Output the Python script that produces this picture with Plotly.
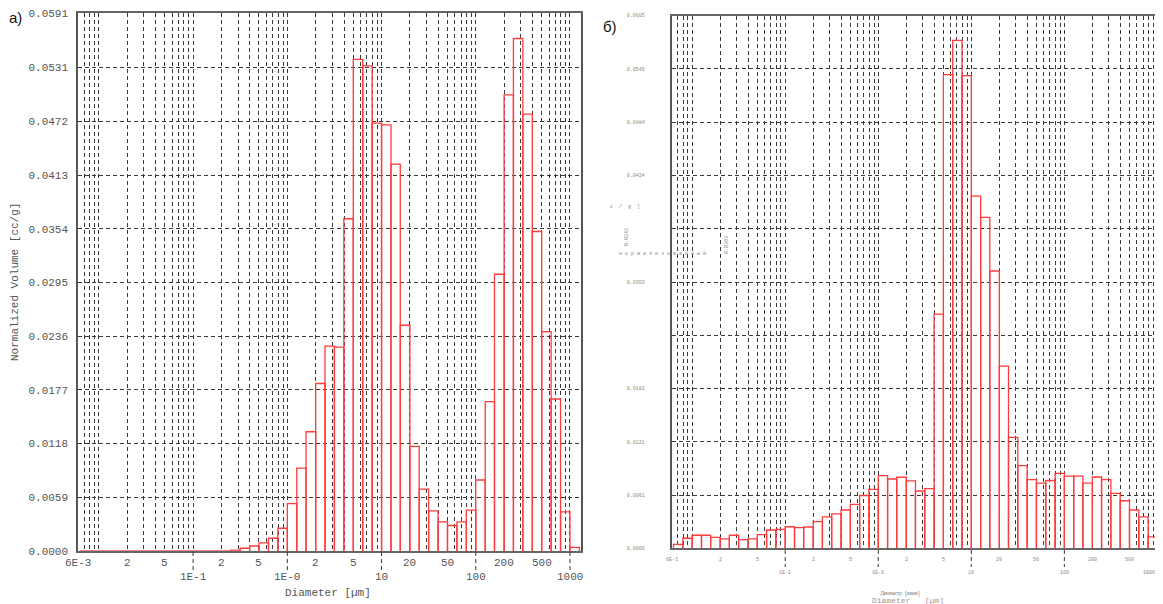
import math
import plotly.graph_objects as go

# ---- data -------------------------------------------------------------
# bin edges (um), 10 bins per decade
bin_edges = [0.00631, 0.00794, 0.01, 0.0126, 0.0158, 0.02, 0.0251, 0.0316, 0.0398, 0.0501,
             0.0631, 0.0794, 0.1, 0.126, 0.158, 0.2, 0.251, 0.316, 0.398, 0.501,
             0.631, 0.794, 1.0, 1.26, 1.58, 2.0, 2.51, 3.16, 3.98, 5.01,
             6.31, 7.94, 10.0, 12.6, 15.8, 20.0, 25.1, 31.6, 39.8, 50.1,
             63.1, 79.4, 100.0, 126.0, 158.0, 200.0, 251.0, 316.0, 398.0, 501.0,
             631.0, 794.0, 1000.0, 1259.0]

# panel a) normalized volume [cc/g]
vol_a = [0, 0, 0, 0, 0, 0, 0, 0, 0, 0,
         0, 0, 0, 0, 0, 0, 0.0001, 0.0003, 0.00055, 0.0009,
         0.0014, 0.0025, 0.0052, 0.0091, 0.0131, 0.0184, 0.0225, 0.0224, 0.0365, 0.0540,
         0.0533, 0.0470, 0.0468, 0.0425, 0.0248, 0.0115, 0.0068, 0.0044, 0.0032, 0.0028,
         0.0032, 0.0045, 0.0078, 0.0164, 0.0304, 0.0501, 0.0563, 0.0480, 0.0351, 0.0241,
         0.0167, 0.0043, 0.0004]

# panel b) normalized volume [cc/g]
vol_b = [0.00045, 0.00114, 0.00148, 0.00148, 0.00125, 0.00106, 0.00148, 0.00098, 0.00106, 0.00155,
         0.00208, 0.00216, 0.00245, 0.00234, 0.00242, 0.00302, 0.00356, 0.0039, 0.00435, 0.0050,
         0.0060, 0.0067, 0.00825, 0.00787, 0.00807, 0.00765, 0.00651, 0.00677, 0.0266, 0.0538,
         0.0577, 0.0537, 0.0400, 0.0376, 0.0315, 0.0207, 0.0126, 0.0094, 0.0078, 0.0074,
         0.0077, 0.0085, 0.0082, 0.0082, 0.0074, 0.0081, 0.0078, 0.00625, 0.0054, 0.00435,
         0.00356, 0.0013, 0.0003]

ytick_a = [0.0, 0.0059, 0.0118, 0.0177, 0.0236, 0.0295, 0.0354, 0.0413, 0.0472, 0.0531, 0.0591]
ytick_a_text = ["0.0000", "0.0059", "0.0118", "0.0177", "0.0236", "0.0295",
                "0.0354", "0.0413", "0.0472", "0.0531", "0.0591"]
ytick_b = [0.0, 0.00605, 0.0121, 0.01815, 0.0242, 0.03025, 0.0363, 0.04235, 0.0484, 0.05445, 0.0605]
ytick_b_text = ["0.0000", "0.0061", "0.0121", "0.0182", "", "0.0303",
                "", "0.0424", "0.0484", "0.0545", "0.0605"]

minor_labels = [(0.006, "6E-3"), (0.02, "2"), (0.05, "5"), (0.2, "2"), (0.5, "5"),
                (2, "2"), (5, "5"), (20, "20"), (50, "50"), (200, "200"), (500, "500")]
decade_labels = [(0.1, "1E-1"), (1, "1E-0"), (10, "10"), (100, "100"), (1000, "1000")]

# ---- helpers ----------------------------------------------------------
OX, OY = 8, 8            # page body margin
W, H = 1155, 596         # figure size so it ends at the window edge


def px(p):  # screen column -> paper x
    return (p - OX) / W


def py(p):  # screen row -> paper y
    return (H - (p - OY)) / H


def outline(edges, vals):
    xs, ys = [], []
    for i, v in enumerate(vals):
        x0, x1 = edges[i], edges[i + 1]
        xs += [x0, x0, x1, x1, None]
        ys += [0, v, v, 0, None]
    return xs, ys


grid_x = [0.006, 0.007, 0.008, 0.009]
for d in [0.01, 0.1, 1, 10, 100]:
    for m in range(1, 10):
        grid_x.append(m * d)
grid_x.append(1000)

RED = "#ff3b3b"
GRID = "#3a3a3a"
DASH = "4px,3px"
MONO = "Liberation Mono, DejaVu Sans Mono, monospace"

fig = go.Figure()
xa, ya = outline(bin_edges, vol_a)
fig.add_trace(go.Scatter(x=xa, y=ya, mode="lines", line=dict(color=RED, width=1.3),
                         xaxis="x", yaxis="y", showlegend=False, hoverinfo="skip"))
xb, yb = outline(bin_edges, vol_b)
fig.add_trace(go.Scatter(x=xb, y=yb, mode="lines", line=dict(color=RED, width=1.3),
                         xaxis="x2", yaxis="y2", showlegend=False, hoverinfo="skip"))

common_x = dict(type="log", tickvals=grid_x, showticklabels=False, ticks="", automargin=False,
                showgrid=True, gridcolor=GRID, griddash=DASH, gridwidth=1,
                showline=True, linecolor="#666", linewidth=1.5, mirror=True, zeroline=False)

dom_a = [px(78), px(581)]
dom_b = [px(671.5), 1.0]
fig.update_layout(
    width=W, height=H, margin=dict(l=0, r=0, t=0, b=0, autoexpand=False),
    paper_bgcolor="white", plot_bgcolor="white",
    xaxis=dict(domain=dom_a, range=[math.log10(0.006), 3.117], anchor="y", **common_x),
    yaxis=dict(domain=[py(551), py(13)], range=[0, 0.0591], anchor="x", automargin=False,
               tickvals=ytick_a, ticktext=ytick_a_text, ticks="", ticklabelstandoff=6,
               ticklabeloverflow="allow",
               tickfont=dict(family=MONO, size=11, color="#555"),
               showgrid=True, gridcolor=GRID, griddash=DASH, gridwidth=1,
               showline=True, linecolor="#555", linewidth=1.5, mirror=True, zeroline=False),
    xaxis2=dict(domain=dom_b, range=[math.log10(0.006), 3.06], anchor="y2", **common_x),
    yaxis2=dict(domain=[py(548.3), py(15.7)], range=[0, 0.0605], anchor="x2", automargin=False,
                tickvals=ytick_b, ticktext=ytick_b_text, ticks="", ticklabelstandoff=24,
                ticklabeloverflow="allow",
                tickfont=dict(family=MONO, size=5, color="#888"),
                showgrid=True, gridcolor=GRID, griddash=DASH, gridwidth=1,
                showline=True, linecolor="#555", linewidth=1.5, mirror=False, zeroline=False),
)

ann = []
shapes = []


def label(x, y, text, xref="paper", size=11, color="#555", family=MONO, angle=0, xanchor="center"):
    ann.append(dict(x=x, y=y, xref=xref, yref="paper", text=text, showarrow=False,
                    xanchor=xanchor, yanchor="middle", textangle=angle,
                    font=dict(family=family, size=size, color=color)))


# panel a x labels
for v, t in minor_labels:
    label(math.log10(v), py(563), t, xref="x")
for v, t in decade_labels:
    label(math.log10(v), py(577), t, xref="x")
    shapes.append(dict(type="line", xref="x", yref="paper", x0=v, x1=v,
                       y0=py(552), y1=py(571), line=dict(color=GRID, width=1, dash=DASH)))
# panel b x labels
for v, t in minor_labels:
    label(math.log10(v), py(560), t, xref="x2", size=5, color="#888")
for v, t in decade_labels:
    label(math.log10(v), py(573), t, xref="x2", size=5, color="#888",
          xanchor="right" if v == 1000 else "center")
    shapes.append(dict(type="line", xref="x2", yref="paper", x0=v, x1=v,
                       y0=py(550), y1=py(567), line=dict(color=GRID, width=1, dash=DASH)))

# titles and panel letters
label(px(15), py(282), "Normalized Volume [cc/g]", angle=-90)
label(px(328), py(593), "Diameter [µm]")
label(px(15), py(17), "а)", size=15, color="#111", family="Liberation Sans, Arial")
label(px(610), py(26), "б)", size=15, color="#111", family="Liberation Sans, Arial")
label(px(900), py(593), "Диаметр  [мкм]", size=6, color="#777", family="Liberation Serif")
label(px(908), py(600), "Diameter   [µm]", size=8, color="#999")
label(px(625), py(207), "c  /  g  ]", size=5, color="#888")
label(px(662), py(253), "н о р м а л и з о в а н н ы й", size=5, color="#888")
label(px(627), py(237), "0.0242", size=5, color="#888", angle=-90)
label(px(727), py(245), "0.0363", size=5, color="#888", angle=-90)

fig.update_layout(annotations=ann, shapes=shapes)

fig.write_html("out.html")
